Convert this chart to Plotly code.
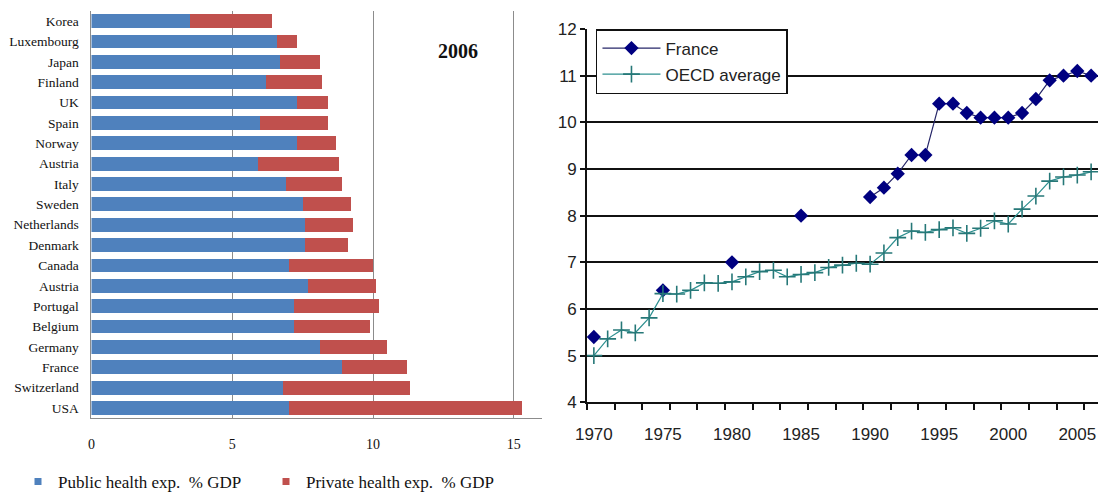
import plotly.graph_objects as go

# --- Health expenditure 2006, % of GDP ---
countries = ["Korea", "Luxembourg", "Japan", "Finland", "UK", "Spain", "Norway",
             "Austria", "Italy", "Sweden", "Netherlands", "Denmark", "Canada",
             "Austria", "Portugal", "Belgium", "Germany", "France", "Switzerland", "USA"]
public_exp = [3.5, 6.6, 6.7, 6.2, 7.3, 6.0, 7.3, 5.9, 6.9, 7.5, 7.6, 7.6, 7.0,
              7.7, 7.2, 7.2, 8.1, 8.9, 6.8, 7.0]
private_exp = [2.9, 0.7, 1.4, 2.0, 1.1, 2.4, 1.4, 2.9, 2.0, 1.7, 1.7, 1.5, 3.0,
               2.4, 3.0, 2.7, 2.4, 2.3, 4.5, 8.3]
bar_ticks = [0, 5, 10, 15]

# --- Total health expenditure over time, % of GDP ---
years = list(range(1970, 2007))
france = [5.4, None, None, None, None, 6.4, None, None, None, None,
          7.0, None, None, None, None, 8.0, None, None, None, None,
          8.4, 8.6, 8.9, 9.3, 9.3, 10.4, 10.4, 10.2, 10.1, 10.1,
          10.1, 10.2, 10.5, 10.9, 11.0, 11.1, 11.0]
oecd = [5.0, 5.36, 5.55, 5.49, 5.81, 6.33, 6.32, 6.40, 6.56, 6.55,
        6.58, 6.69, 6.80, 6.83, 6.69, 6.74, 6.78, 6.89, 6.94, 6.98,
        6.96, 7.2, 7.53, 7.67, 7.64, 7.70, 7.74, 7.62, 7.73, 7.89,
        7.82, 8.14, 8.42, 8.74, 8.83, 8.87, 8.94]
year_labels = [1970, 1975, 1980, 1985, 1990, 1995, 2000, 2005]

BLUE = "#4F81BD"
RED = "#C0504D"
SERIF = "Liberation Serif, Times New Roman, serif"
SANS = "Liberation Sans, Arial, sans-serif"

rows = list(range(len(countries)))

fig = go.Figure()

fig.add_trace(go.Bar(x=public_exp, y=rows, orientation="h", marker_color=BLUE,
                     marker_line_width=0, showlegend=False, xaxis="x", yaxis="y"))
fig.add_trace(go.Bar(x=private_exp, y=rows, orientation="h", marker_color=RED,
                     marker_line_width=0, showlegend=False, xaxis="x", yaxis="y"))

# small square swatches for the bar legend
fig.add_trace(go.Scatter(x=[None], y=[None], mode="markers", name="Public health exp.  % GDP",
                         marker=dict(symbol="square", size=7, color=BLUE),
                         legend="legend", xaxis="x", yaxis="y"))
fig.add_trace(go.Scatter(x=[None], y=[None], mode="markers", name="Private health exp.  % GDP",
                         marker=dict(symbol="square", size=7, color=RED),
                         legend="legend", xaxis="x", yaxis="y"))

fig.add_trace(go.Scatter(x=years, y=france, name="France", mode="lines+markers",
                         connectgaps=False, legendgroup="fr",
                         line=dict(color="#262668", width=1.2),
                         marker=dict(symbol="diamond", size=11, color="#000080"),
                         legend="legend2", xaxis="x2", yaxis="y2"))
fig.add_trace(go.Scatter(x=years, y=oecd, name="OECD average", mode="lines+markers",
                         legendgroup="oecd",
                         line=dict(color="#2E9090", width=1.2),
                         marker=dict(symbol="cross-thin", size=12,
                                     line=dict(color="#267878", width=1.6)),
                         legend="legend2", xaxis="x2", yaxis="y2"))

fig.update_layout(
    width=1101, height=496,
    margin=dict(l=0, r=0, t=0, b=0, autoexpand=False),
    paper_bgcolor="white", plot_bgcolor="white",
    barmode="stack", bargap=0.32,
    xaxis=dict(domain=[0.0831, 0.4923], range=[0, 16], tickvals=bar_ticks,
               automargin=False,
               showgrid=True, gridcolor="#8c8c8c", gridwidth=1,
               showline=True, linecolor="#8c8c8c", linewidth=1,
               zeroline=False, ticks="", ticklabelstandoff=13,
               tickfont=dict(family=SERIF, size=14, color="#111")),
    yaxis=dict(domain=[0.157, 0.978], range=[19.5, -0.5], tickvals=rows, ticktext=countries,
               automargin=False,
               showgrid=False, showline=True, linecolor="#8c8c8c", linewidth=1,
               zeroline=False, ticks="outside", ticklen=9, tickcolor="rgba(0,0,0,0)",
               tickfont=dict(family=SERIF, size=13.5, color="#111")),
    xaxis2=dict(domain=[0.5331, 0.9973], range=[1969.5, 2006.5], anchor="y2",
                automargin=False,
                tickvals=year_labels, ticks="", ticklabelstandoff=16,
                minor=dict(tick0=1969.5, dtick=2, ticks="outside", ticklen=6,
                           tickcolor="#111", tickwidth=1.5, showgrid=False),
                showgrid=False, showline=True, linecolor="#111", linewidth=1.5,
                zeroline=False,
                tickfont=dict(family=SANS, size=17, color="#222")),
    yaxis2=dict(domain=[0.1889, 0.9415], range=[4, 12], anchor="x2", dtick=1,
                automargin=False,
                showgrid=True, gridcolor="#111", gridwidth=1.5,
                showline=True, linecolor="#111", linewidth=1.5,
                zeroline=False, ticks="outside", ticklen=5, tickcolor="#111", tickwidth=1.5,
                tickfont=dict(family=SANS, size=17, color="#222")),
    legend=dict(orientation="h", x=18 / 1101, y=-0.008, xanchor="left", yanchor="bottom",
                traceorder="normal",
                entrywidth=203, entrywidthmode="pixels", itemwidth=30,
                font=dict(family=SERIF, size=17, color="#111"),
                bgcolor="rgba(0,0,0,0)"),
    legend2=dict(x=0.5413, y=1 - 29 / 496, xanchor="left", yanchor="top",
                 traceorder="grouped",
                 bgcolor="white", bordercolor="#111", borderwidth=1.5,
                 itemwidth=58, tracegroupgap=1,
                 font=dict(family=SANS, size=17, color="#222")),
    annotations=[dict(text="<b>2006</b>", xref="x", x=13.0, yref="paper", y=1 - 38 / 496,
                      showarrow=False, font=dict(family=SERIF, size=20, color="#111"))],
)

fig.write_html("out.html")
